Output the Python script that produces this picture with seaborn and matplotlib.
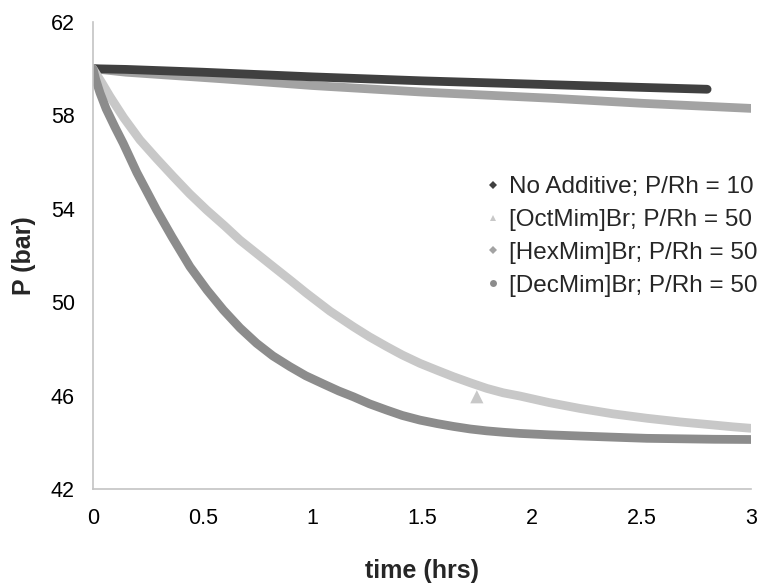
import numpy as np
import pandas as pd
import matplotlib
matplotlib.use("Agg")
import matplotlib.pyplot as plt
from matplotlib.lines import Line2D
import seaborn as sns

# Pressure decay traces (time in hours, pressure in bar)
t_none = [0, 0.15, 0.5, 1.0, 1.5, 2.0, 2.5, 2.8]
p_none = [60.0, 59.97, 59.85, 59.65, 59.48, 59.34, 59.20, 59.12]

t_oct = [0, 0.04, 0.078, 0.14, 0.214, 0.29, 0.366, 0.44, 0.518, 0.60, 0.670,
         0.75, 0.822, 0.90, 0.974, 1.08, 1.187, 1.26, 1.339, 1.41, 1.491, 1.57,
         1.643, 1.72, 1.795, 1.87, 1.947, 2.08, 2.22, 2.37, 2.525, 2.68, 2.83,
         2.92, 3.0]
p_oct = [60.0, 59.40, 58.80, 57.90, 56.95, 56.15, 55.38, 54.65, 53.95, 53.27,
         52.66, 52.06, 51.52, 50.94, 50.38, 49.62, 48.95, 48.52, 48.10, 47.74,
         47.38, 47.08, 46.81, 46.55, 46.31, 46.12, 45.98, 45.70, 45.45, 45.22,
         45.03, 44.87, 44.74, 44.66, 44.60]
t_oct_extra = [1.75]
p_oct_extra = [45.95]

t_hex = [0, 0.15, 0.6, 1.0, 1.5, 2.1, 2.5, 3.0]
p_hex = [60.0, 59.85, 59.56, 59.28, 59.0, 58.73, 58.52, 58.30]

t_dec = [0, 0.012, 0.032, 0.06, 0.1, 0.138, 0.2, 0.29, 0.36, 0.442, 0.52,
         0.594, 0.67, 0.746, 0.82, 0.898, 0.97, 1.05, 1.12, 1.187, 1.26,
         1.339, 1.41, 1.491, 1.57, 1.643, 1.72, 1.795, 1.87, 1.947, 2.08, 2.22,
         2.37, 2.525, 2.68, 2.83, 3.0]
p_dec = [60.0, 59.55, 58.96, 58.28, 57.50, 56.80, 55.55, 53.95, 52.80, 51.52,
         50.52, 49.67, 48.90, 48.24, 47.70, 47.24, 46.85, 46.50, 46.20, 45.95,
         45.65, 45.38, 45.15, 44.95, 44.80, 44.68, 44.57, 44.49, 44.43, 44.38,
         44.32, 44.27, 44.22, 44.17, 44.15, 44.13, 44.12]

labels = ["No Additive; P/Rh = 10", "[OctMim]Br; P/Rh = 50",
          "[HexMim]Br; P/Rh = 50", "[DecMim]Br; P/Rh = 50"]
colors = ["#404040", "#c8c8c8", "#a3a3a3", "#8c8c8c"]
markers = ["D", "^", "D", "o"]

x_ticks = [0, 0.5, 1, 1.5, 2, 2.5, 3]
x_tick_labels = ["0", "0.5", "1", "1.5", "2", "2.5", "3"]
y_ticks = [42, 46, 50, 54, 58, 62]

sns.set_style("white")
plt.rcParams["font.family"] = ["Liberation Sans", "DejaVu Sans"]

fig = plt.figure(figsize=(7.62, 5.83), dpi=100)
ax = fig.add_axes([93 / 762, 1 - 489 / 583, (751 - 93) / 762, (489 - 22) / 583])

lw = 6.3
series = [(t_hex, p_hex, colors[2]), (t_none, p_none, colors[0]),
          (t_oct, p_oct, colors[1]), (t_dec, p_dec, colors[3])]
for tt, pp, c in series:
    sns.lineplot(x=tt, y=pp, color=c, linewidth=lw, sort=False, ax=ax,
                 solid_capstyle="round", solid_joinstyle="round", legend=False)

sns.scatterplot(x=t_oct_extra, y=p_oct_extra, marker="^", s=90, color=colors[1],
                edgecolor="none", ax=ax, legend=False, zorder=5)

ax.set_xlim(0, 3)
ax.set_ylim(42, 62)
ax.set_xticks(x_ticks)
ax.set_xticklabels(x_tick_labels)
ax.set_yticks(y_ticks)

for side in ["top", "right"]:
    ax.spines[side].set_visible(False)
for side in ["left", "bottom"]:
    ax.spines[side].set_color("#c4c4c4")
    ax.spines[side].set_linewidth(1.2)

ax.tick_params(axis="both", direction="in", length=5, width=1.0, color="#c4c4c4",
               labelsize=15.5, labelcolor="black")
ax.tick_params(axis="y", pad=13)
ax.tick_params(axis="x", pad=14)

ax.set_xlabel("time (hrs)", fontsize=18, fontweight="bold", labelpad=21)
ax.set_ylabel("P (bar)", fontsize=18, fontweight="bold", labelpad=11)

handles = [Line2D([0], [0], linestyle="none", marker=m, color=c, markersize=5,
                  markeredgewidth=0) for m, c in zip(markers, colors)]
handles[0].set_markersize(4.5)
handles[2].set_markersize(4.5)
ax.legend(handles, labels, loc="center left", bbox_to_anchor=(486 / 762, 1 - 236.5 / 583),
          bbox_transform=fig.transFigure, frameon=False, fontsize=17.5,
          handlelength=0.6, handletextpad=0.35, labelspacing=0.45, borderpad=0,
          borderaxespad=0)

fig.savefig("out.png", dpi=100)
